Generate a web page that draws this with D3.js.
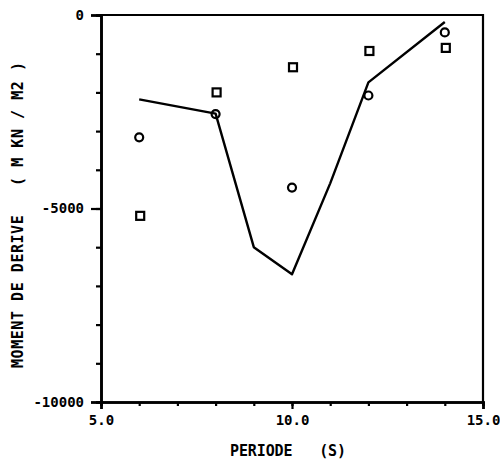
<!DOCTYPE html>
<html>
<head>
<meta charset="utf-8">
<script src="https://cdn.jsdelivr.net/npm/d3@7/dist/d3.min.js"></script>
<style>
  html, body { margin: 0; padding: 0; background: #fff; }
  svg { display: block; }
  text { font-family: "DejaVu Sans Mono", monospace; font-weight: bold; fill: #000; white-space: pre; }
</style>
</head>
<body>
<svg id="chart" width="500" height="460"></svg>
<script>
// Data
const lineX = [6, 8, 9, 10, 11, 12, 14];
const lineY = [-2180, -2550, -6000, -6700, -4350, -1740, -180];
const circleX = [6, 8, 10, 12, 14];
const circleY = [-3160, -2560, -4460, -2080, -450];
const squareX = [6, 8, 10, 12, 14];
const squareY = [-5190, -2000, -1350, -930, -850];
const xTickLabels = ["5.0", "10.0", "15.0"];
const xTickValues = [5, 10, 15];
const yTickLabels = ["0", "-5000", "-10000"];
const yTickValues = [0, -5000, -10000];
const xTitle = "PERIODE   (S)";
const yTitle = "MOMENT DE DERIVE   ( M KN / M2 )";

const svg = d3.select("#chart");
const mLeft = 101, mRight = 483, mTop = 15, mBottom = 402;

const x = d3.scaleLinear().domain([5, 15]).range([mLeft, mRight]);
const y = d3.scaleLinear().domain([-10000, 0]).range([mBottom, mTop]);

// Frame (top & right)
svg.append("path")
  .attr("d", `M${mLeft},${mTop}H${mRight}V${mBottom}`)
  .attr("fill", "none").attr("stroke", "#000").attr("stroke-width", 2.2);

const xAxisMinor = d3.axisBottom(x).tickValues(d3.range(5, 16, 1)).tickSize(4).tickFormat("");
const gxm = svg.append("g").attr("transform", `translate(0,${mBottom})`).call(xAxisMinor);
const xAxisMajor = d3.axisBottom(x).tickValues(xTickValues).tickSize(7)
  .tickFormat((d, i) => xTickLabels[i]).tickPadding(6);
const gx = svg.append("g").attr("transform", `translate(0,${mBottom})`).call(xAxisMajor);

const yAxisMinor = d3.axisLeft(y).tickValues(d3.range(-10000, 1, 1000)).tickSize(5).tickFormat("");
const gym = svg.append("g").attr("transform", `translate(${mLeft},0)`).call(yAxisMinor);
const yAxisMajor = d3.axisLeft(y).tickValues(yTickValues).tickSize(10)
  .tickFormat((d, i) => yTickLabels[i]).tickPadding(7);
const gy = svg.append("g").attr("transform", `translate(${mLeft},0)`).call(yAxisMajor);

[gxm, gx, gym, gy].forEach(g => {
  g.selectAll("path.domain").attr("stroke", "#000").attr("stroke-width", 2.6);
  g.selectAll(".tick line").attr("stroke", "#000").attr("stroke-width", 2.2);
  g.selectAll("text").attr("font-size", 14).attr("font-family", "DejaVu Sans Mono, monospace")
    .attr("font-weight", "bold").attr("fill", "#000");
});

// Titles
svg.append("text")
  .attr("x", 288).attr("y", 456)
  .attr("text-anchor", "middle")
  .attr("font-size", 15)
  .attr("textLength", 116).attr("lengthAdjust", "spacing")
  .text(xTitle);

svg.append("text")
  .attr("transform", "translate(23,215) rotate(-90)")
  .attr("text-anchor", "middle")
  .attr("font-size", 15)
  .attr("textLength", 306).attr("lengthAdjust", "spacing")
  .text(yTitle);

// Line
const lineData = lineX.map((d, i) => [d, lineY[i]]);
svg.append("path")
  .datum(lineData)
  .attr("d", d3.line().x(d => x(d[0])).y(d => y(d[1])))
  .attr("fill", "none").attr("stroke", "#000").attr("stroke-width", 2.4)
  .attr("stroke-linejoin", "round");

// Circles
svg.selectAll("circle.pt")
  .data(circleX.map((d, i) => [d, circleY[i]]))
  .join("circle")
  .attr("class", "pt")
  .attr("cx", d => x(d[0])).attr("cy", d => y(d[1]))
  .attr("r", 4)
  .attr("fill", "none").attr("stroke", "#000").attr("stroke-width", 2.2);

// Squares
const s = 8;
svg.selectAll("rect.sq")
  .data(squareX.map((d, i) => [d, squareY[i]]))
  .join("rect")
  .attr("class", "sq")
  .attr("x", d => x(d[0]) - s / 2 + 1).attr("y", d => y(d[1]) - s / 2)
  .attr("width", s).attr("height", s)
  .attr("fill", "none").attr("stroke", "#000").attr("stroke-width", 2.2);
</script>
</body>
</html>
